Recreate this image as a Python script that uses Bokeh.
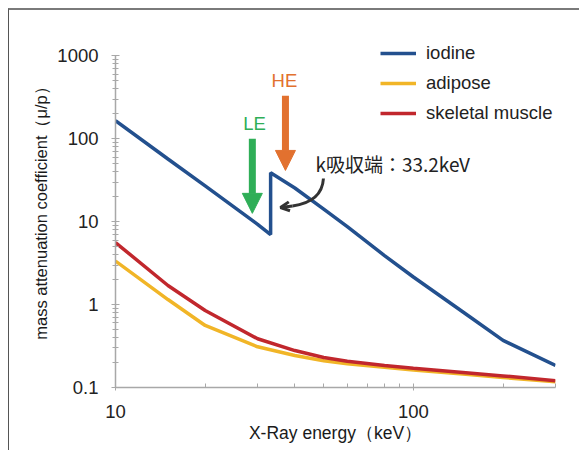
from bokeh.plotting import figure
from bokeh.models import FixedTicker, Arrow, NormalHead, OpenHead, Label, Legend
from bokeh.embed import file_html
from bokeh.resources import INLINE

# ---- data ----
iodine_energy = [10, 15, 20, 30, 33.17, 33.17, 40, 50, 60, 80, 100, 150, 200, 300]
iodine_mu = [165, 57, 27, 9.3, 7.0, 39, 25.5, 14.2, 8.7, 3.9, 2.15, 0.77, 0.37, 0.184]

tissue_energy = [10, 15, 20, 30, 40, 50, 60, 80, 100, 150, 200, 300]
adipose_mu = [3.35, 1.15, 0.56, 0.31, 0.243, 0.21, 0.193, 0.175, 0.163, 0.144, 0.132, 0.117]
muscle_mu = [5.6, 1.70, 0.85, 0.387, 0.279, 0.23, 0.207, 0.184, 0.171, 0.151, 0.138, 0.121]

y_ticks = [0.1, 1, 10, 100, 1000]
y_tick_labels = ["0.1", "1", "10", "100", "1000"]
x_ticks = [10, 100]
x_tick_labels = ["10", "100"]
x_minor = [20, 30, 40, 50, 60, 70, 80, 90, 200, 300]

# annotation anchors (keV, mu)
le_arrow = [28.8, 100.0, 28.8, 12.6]
he_arrow = [37.2, 330.0, 37.2, 41.5]
le_text = [29.3, 153]
he_text = [36.9, 505]
edge_text = [46.9, 50.4]
curve = [49.9, 33.2, 39.3, 15.5, 49.5, 20.7, 45.1, 16.6]
curve_head = [39.3, 15.5, 35.8, 14.8]

FONT = "Liberation Sans"
CJK = "Noto Sans CJK JP"

p = figure(width=571, height=442, x_axis_type="log", y_axis_type="log",
           x_range=(10, 300), y_range=(0.1, 2022),
           output_backend="svg", toolbar_location=None,
           min_border_left=106, min_border_right=25,
           min_border_top=20, min_border_bottom=65)
p.styles = {"border-top": "2px solid #7a7a7a", "border-left": "1px solid #555555",
            "margin-left": "8px", "margin-top": "8px"}
p.outline_line_color = None
p.xgrid.visible = False
p.ygrid.visible = False
p.background_fill_color = "white"
p.border_fill_color = "white"

r1 = p.line(iodine_energy, iodine_mu, line_color="#23508e", line_width=3.5)
r2 = p.line(tissue_energy, adipose_mu, line_color="#f1b527", line_width=3.5)
r3 = p.line(tissue_energy, muscle_mu, line_color="#c1272d", line_width=3.5)

legend = Legend(items=[("iodine", [r1]), ("adipose", [r2]), ("skeletal muscle", [r3])],
                location=(265, 259))
legend.glyph_width = 36
legend.glyph_height = 30
legend.label_standoff = 10
legend.spacing = 0
legend.padding = 0
legend.margin = 0
legend.border_line_alpha = 0
legend.background_fill_alpha = 0
legend.label_text_font = FONT
legend.label_text_font_size = "18.5px"
legend.label_text_color = "#222222"
p.add_layout(legend)

# axes
for ax in (p.xaxis[0], p.yaxis[0]):
    ax.axis_line_color = "#a8a8a8"
    ax.axis_line_width = 1.5
    ax.major_tick_line_color = "#a8a8a8"
    ax.minor_tick_line_color = "#a8a8a8"
    ax.major_label_text_font = FONT
    ax.major_label_text_font_size = "18.5px"
    ax.major_label_text_color = "#222222"
    ax.axis_label_text_font = FONT
    ax.axis_label_text_font_style = "normal"
    ax.axis_label_text_color = "#1a1a1a"

p.xaxis.ticker = FixedTicker(ticks=x_ticks, minor_ticks=x_minor)
p.xaxis.major_label_overrides = dict(zip(x_ticks, x_tick_labels))
p.xaxis.major_tick_in = 4
p.xaxis.major_tick_out = 3
p.xaxis.minor_tick_in = 4
p.xaxis.minor_tick_out = 0
p.xaxis.major_label_standoff = 14
p.xaxis.axis_label = "X-Ray energy（keV）"
p.xaxis.axis_label_text_font_size = "17.5px"
p.xaxis.axis_label_standoff = 2

y_minor = [m * t for t in [0.1, 1, 10, 100] for m in range(2, 10)]
p.yaxis.ticker = FixedTicker(ticks=y_ticks, minor_ticks=y_minor)
p.yaxis.major_label_overrides = dict(zip(y_ticks, y_tick_labels))
p.yaxis.bounds = (0.1, 1000)
p.yaxis.major_tick_in = 4
p.yaxis.major_tick_out = 4
p.yaxis.minor_tick_in = 3
p.yaxis.minor_tick_out = 3
p.yaxis.major_label_standoff = 13
p.yaxis.axis_label = "mass attenuation coefficient（μ/p）"
p.yaxis.axis_label_text_font_size = "16.5px"
p.yaxis.axis_label_standoff = 4

# LE / HE arrows
green = "#2fae57"
orange = "#e2712f"
p.add_layout(Arrow(x_start=le_arrow[0], y_start=le_arrow[1], x_end=le_arrow[2], y_end=le_arrow[3],
                   line_color=green, line_width=7,
                   end=NormalHead(size=20, fill_color=green, line_color=green, line_width=1)))
p.add_layout(Arrow(x_start=he_arrow[0], y_start=he_arrow[1], x_end=he_arrow[2], y_end=he_arrow[3],
                   line_color=orange, line_width=7,
                   end=NormalHead(size=20, fill_color=orange, line_color=orange, line_width=1)))
p.add_layout(Label(x=le_text[0], y=le_text[1], text="LE", text_color=green, text_font=FONT,
                   text_font_size="18.5px", text_align="center", text_baseline="middle"))
p.add_layout(Label(x=he_text[0], y=he_text[1], text="HE", text_color=orange, text_font=FONT,
                   text_font_size="18.5px", text_align="center", text_baseline="middle"))

# K-edge callout
p.bezier(x0=[curve[0]], y0=[curve[1]], x1=[curve[2]], y1=[curve[3]],
         cx0=[curve[4]], cy0=[curve[5]], cx1=[curve[6]], cy1=[curve[7]],
         line_color="#333333", line_width=3)
p.add_layout(Arrow(x_start=curve_head[0], y_start=curve_head[1], x_end=curve_head[2], y_end=curve_head[3],
                   line_color="#333333", line_width=3,
                   end=OpenHead(size=9, line_color="#333333", line_width=3)))
p.add_layout(Label(x=edge_text[0], y=edge_text[1], text="k吸収端：33.2keV", text_color="#222222",
                   text_font=CJK, text_font_size="19px", text_align="left", text_baseline="middle",
                   background_fill_color="white"))

open("out.html", "w").write(file_html(p, INLINE))
